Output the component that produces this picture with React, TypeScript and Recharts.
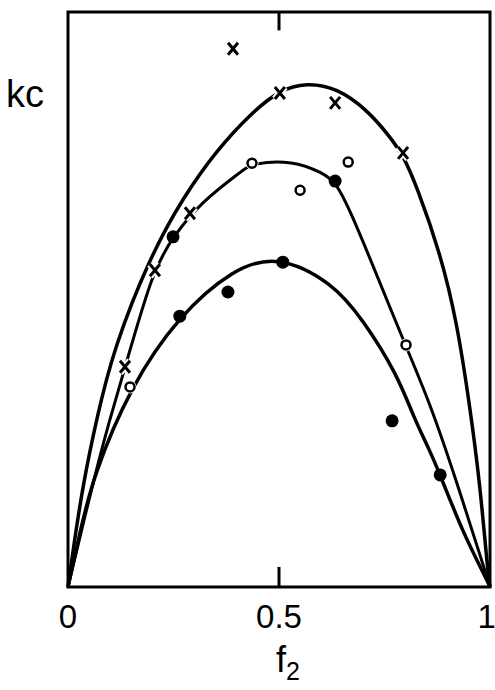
import React from 'react';
import {
  ComposedChart,
  Line,
  Scatter,
  XAxis,
  YAxis,
  ReferenceArea,
  ReferenceLine,
} from 'recharts';

// curves (f2 vs relative kc)
const outerCurve = [
  { x: 0, y: 0 }, { x: 0.012, y: 0.064 }, { x: 0.036, y: 0.181 }, { x: 0.069, y: 0.296 },
  { x: 0.107, y: 0.412 }, { x: 0.194, y: 0.574 }, { x: 0.273, y: 0.678 }, { x: 0.353, y: 0.76 },
  { x: 0.431, y: 0.822 }, { x: 0.502, y: 0.865 }, { x: 0.566, y: 0.877 }, { x: 0.637, y: 0.868 },
  { x: 0.709, y: 0.83 }, { x: 0.763, y: 0.783 }, { x: 0.794, y: 0.751 }, { x: 0.827, y: 0.696 },
  { x: 0.882, y: 0.581 }, { x: 0.922, y: 0.46 }, { x: 0.953, y: 0.31 }, { x: 0.976, y: 0.181 },
  { x: 0.995, y: 0.024 }, { x: 1, y: 0 },
];

const middleCurve = [
  { x: 0, y: 0 }, { x: 0.059, y: 0.181 }, { x: 0.095, y: 0.282 }, { x: 0.135, y: 0.381 },
  { x: 0.201, y: 0.551 }, { x: 0.249, y: 0.609 }, { x: 0.313, y: 0.668 }, { x: 0.415, y: 0.725 },
  { x: 0.436, y: 0.737 }, { x: 0.533, y: 0.742 }, { x: 0.604, y: 0.72 }, { x: 0.635, y: 0.704 },
  { x: 0.668, y: 0.655 }, { x: 0.716, y: 0.571 }, { x: 0.794, y: 0.43 }, { x: 0.858, y: 0.32 },
  { x: 0.922, y: 0.181 }, { x: 0.993, y: 0.017 }, { x: 1, y: 0 },
];

const innerCurve = [
  { x: 0, y: 0 }, { x: 0.028, y: 0.094 }, { x: 0.059, y: 0.191 }, { x: 0.147, y: 0.348 },
  { x: 0.265, y: 0.474 }, { x: 0.391, y: 0.553 }, { x: 0.495, y: 0.578 }, { x: 0.626, y: 0.53 },
  { x: 0.699, y: 0.465 }, { x: 0.78, y: 0.37 }, { x: 0.818, y: 0.297 }, { x: 0.858, y: 0.236 },
  { x: 0.882, y: 0.195 }, { x: 0.936, y: 0.094 }, { x: 0.993, y: 0.012 }, { x: 1, y: 0 },
];

const crossPoints = [
  { x: 0.391, y: 0.936 }, { x: 0.502, y: 0.859 }, { x: 0.633, y: 0.842 }, { x: 0.794, y: 0.755 },
  { x: 0.289, y: 0.65 }, { x: 0.206, y: 0.551 }, { x: 0.135, y: 0.383 },
];

const openPoints = [
  { x: 0.436, y: 0.737 }, { x: 0.664, y: 0.739 }, { x: 0.55, y: 0.69 },
  { x: 0.801, y: 0.421 }, { x: 0.147, y: 0.348 },
];

const filledPoints = [
  { x: 0.249, y: 0.609 }, { x: 0.633, y: 0.706 }, { x: 0.509, y: 0.565 }, { x: 0.379, y: 0.513 },
  { x: 0.265, y: 0.471 }, { x: 0.768, y: 0.289 }, { x: 0.882, y: 0.195 },
];

const xTicks = [0, 0.5, 1];

const Cross = (p: any) => {
  const d = `M${p.cx - 5},${p.cy - 6}L${p.cx + 5},${p.cy + 6}M${p.cx + 5},${p.cy - 6}L${p.cx - 5},${p.cy + 6}`;
  return (
    <g>
      <path d={d} stroke="#fff" strokeWidth={7} />
      <path d={d} stroke="#000" strokeWidth={3} />
    </g>
  );
};
const OpenDot = (p: any) => (
  <g>
    <circle cx={p.cx} cy={p.cy} r={6.5} fill="#fff" />
    <circle cx={p.cx} cy={p.cy} r={4.5} fill="#fff" stroke="#000" strokeWidth={2.5} />
  </g>
);
const FilledDot = (p: any) => <circle cx={p.cx} cy={p.cy} r={6.5} fill="#000" />;

export default function App() {
  const font = '"Liberation Sans", Arial, sans-serif';
  return (
    <div style={{ position: 'absolute', left: 0, top: 0, width: 495, height: 690, background: '#fff' }}>
      <ComposedChart width={495} height={690} margin={{ top: 12, right: 5, left: 68, bottom: 43 }}>
        <XAxis
          dataKey="x"
          type="number"
          domain={[0, 1]}
          ticks={xTicks}
          axisLine={false}
          tickLine={false}
          height={60}
          tickMargin={12}
          tickFormatter={(v: number) => String(v)}
          tick={{ fill: '#000', fontSize: 33, fontFamily: font }}
        />
        <YAxis type="number" domain={[0, 1]} hide />
        <ReferenceArea x1={0} x2={1} y1={0} y2={1} fill="none" stroke="#000" strokeWidth={3} ifOverflow="visible" />
        <ReferenceLine segment={[{ x: 0.5, y: 0 }, { x: 0.5, y: 0.035 }]} stroke="#000" strokeWidth={3} />
        <ReferenceLine segment={[{ x: 0.5, y: 1 }, { x: 0.5, y: 0.968 }]} stroke="#000" strokeWidth={3} />
        <Line data={outerCurve} dataKey="y" type="basis" stroke="#000" strokeWidth={3.5} dot={false} isAnimationActive={false} />
        <Line data={middleCurve} dataKey="y" type="basis" stroke="#000" strokeWidth={3} dot={false} isAnimationActive={false} />
        <Line data={innerCurve} dataKey="y" type="basis" stroke="#000" strokeWidth={3.5} dot={false} isAnimationActive={false} />
        <Scatter data={crossPoints} dataKey="y" shape={Cross} isAnimationActive={false} />
        <Scatter data={openPoints} dataKey="y" shape={OpenDot} isAnimationActive={false} />
        <Scatter data={filledPoints} dataKey="y" shape={FilledDot} isAnimationActive={false} />
      </ComposedChart>
      <div style={{ position: 'absolute', left: 6, top: 74, fontFamily: font, fontSize: 38, lineHeight: '40px' }}>kc</div>
      <div style={{ position: 'absolute', left: 276, top: 640, fontFamily: font, fontSize: 36, lineHeight: '40px' }}>
        f<span style={{ fontSize: 25, verticalAlign: -8 }}>2</span>
      </div>
    </div>
  );
}
